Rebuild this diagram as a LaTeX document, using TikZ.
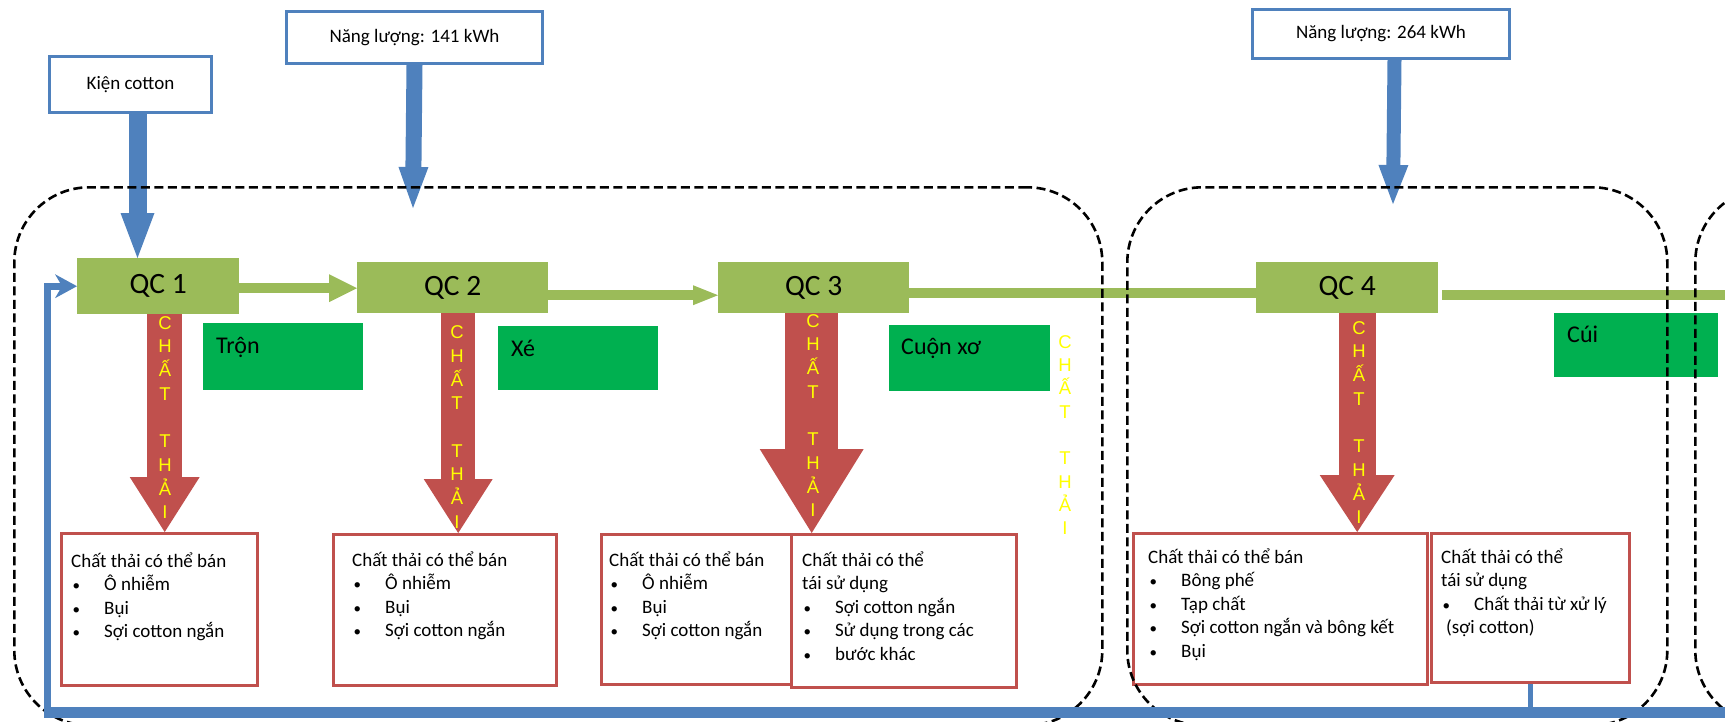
\documentclass[tikz,border=0pt]{standalone}
\usepackage{fontspec}
\setmainfont{Carlito}
\newfontfamily\arialf{Liberation Sans}
\usetikzlibrary{arrows.meta}
\definecolor{qcgreen}{HTML}{9BBB59}
\definecolor{boxgreen}{HTML}{00B050}
\definecolor{wred}{HTML}{C0504D}
\definecolor{wblue}{HTML}{4F81BD}
\definecolor{wyellow}{HTML}{FFFF00}
\newcommand{\bulitem}{\makebox[33pt][l]{\hspace*{1.5pt}{\fontsize{15}{15}\selectfont •}}}
\tikzset{
  inbox/.style={draw=wblue, line width=3pt, fill=white, inner sep=0pt, anchor=north west, font=\fontsize{19}{23}\selectfont},
  qcbox/.style={fill=qcgreen, inner sep=0pt, anchor=north west, font=\fontsize{29.5}{34}\selectfont},
  stagebox/.style={fill=boxgreen, inner sep=0pt, anchor=north west},
  stagelabel/.style={anchor=base west, inner sep=0pt, font=\fontsize{24}{28}\selectfont},
  wastebox/.style={draw=wred, line width=3pt, fill=white, inner sep=0pt, anchor=north west},
  wastetext/.style={anchor=base west, inner sep=0pt, align=left, font=\fontsize{19}{23.6}\selectfont},
  zone/.style={draw=black, line width=2.6pt, dash pattern=on 9pt off 4.5pt, rounded corners=75pt, inner sep=0pt, anchor=north west},
  vlabel/.style={text=wyellow, inner sep=0pt, align=center, font=\arialf\fontsize{18.5}{23.7}\selectfont},
}
\begin{document}
\begin{tikzpicture}[x=1pt,y=-1pt]
\useasboundingbox (0,0) rectangle (1725,721);
\clip (0,0) rectangle (1725,721);

% input boxes
\node[inbox, minimum width=162pt, minimum height=56pt] (kien) at (48,55) {Kiện cotton};
\node[inbox, minimum width=256pt, minimum height=52pt] (e141) at (285,10) {Năng lượng: 141 kWh};
\node[inbox, minimum width=257pt, minimum height=49pt] (e264) at (1251,8) {Năng lượng: 264 kWh};

% process boxes
\node[qcbox, minimum width=162pt, minimum height=56pt] (qc1) at (77,258) {QC 1};
\node[qcbox, minimum width=191pt, minimum height=51pt] (qc2) at (357,262) {QC 2};
\node[qcbox, minimum width=191pt, minimum height=51pt] (qc3) at (718,262) {QC 3};
\node[qcbox, minimum width=182pt, minimum height=51pt] (qc4) at (1256,262) {QC 4};

% stage boxes
\node[stagebox, minimum width=160pt, minimum height=67pt] (tronbox) at (203,323) {};
\node[stagebox, minimum width=160pt, minimum height=64pt] (xebox) at (498,326) {};
\node[stagebox, minimum width=161pt, minimum height=66pt] (cuonbox) at (889,325) {};
\node[stagebox, minimum width=164pt, minimum height=64pt] (cuibox) at (1554,313) {};
\node[stagelabel] (tron) at ([shift={(13,30)}]tronbox.north west) {Trộn};
\node[stagelabel] (xe) at ([shift={(13,30)}]xebox.north west) {Xé};
\node[stagelabel] (cuon) at ([shift={(12,29)}]cuonbox.north west) {Cuộn xơ};
\node[stagelabel] (cui) at ([shift={(13,29)}]cuibox.north west) {Cúi};

% waste boxes
\node[wastebox, minimum width=196pt, minimum height=152pt] (wA) at (60,532) {};
\node[wastebox, minimum width=223pt, minimum height=151pt] (wB) at (332,533) {};
\node[wastebox, minimum width=190pt, minimum height=150pt] (wC) at (600,533) {};
\node[wastebox, minimum width=225pt, minimum height=153pt] (wD) at (790,533) {};
\node[wastebox, minimum width=294pt, minimum height=151pt] (wE) at (1132,532) {};
\node[wastebox, minimum width=198pt, minimum height=149pt] (wF) at (1430,532) {};

% (anchor base = baseline of the last line)
\node[wastetext] (tA) at (71,637.8) {Chất thải có thể bán\\\bulitem Ô nhiễm\\\bulitem Bụi\\\bulitem Sợi cotton ngắn};
\node[wastetext] (tB) at (352,636.8) {Chất thải có thể bán\\\bulitem Ô nhiễm\\\bulitem Bụi\\\bulitem Sợi cotton ngắn};
\node[wastetext] (tC) at (609,636.8) {Chất thải có thể bán\\\bulitem Ô nhiễm\\\bulitem Bụi\\\bulitem Sợi cotton ngắn};
\node[wastetext] (tD) at (802,660.4) {Chất thải có thể\\tái sử dụng\\\bulitem Sợi cotton ngắn\\\bulitem Sử dụng trong các\\\bulitem bước khác};
\node[wastetext] (tE) at (1148,657.4) {Chất thải có thể bán\\\bulitem Bông phế\\\bulitem Tạp chất\\\bulitem Sợi cotton ngắn và bông kết\\\bulitem Bụi};
\node[wastetext] (tF) at (1441,633.8) {Chất thải có thể\\tái sử dụng\\\bulitem Chất thải từ xử lý\\\hspace*{5pt}(sợi cotton)};

% green flow arrows
\draw[qcgreen, line width=10pt, -{Triangle[length=28pt,width=28pt,line width=0pt]}] ([shift={(0,2)}]qc1.east) -- ([shift={(0,2)}]qc1.east -| qc2.west);
\draw[qcgreen, line width=10pt, -{Triangle[length=25pt,width=20pt,line width=0pt]}] ([shift={(0,7.5)}]qc2.east) -- ([shift={(0,7.5)}]qc2.east -| qc3.west);
\draw[qcgreen, line width=10pt] ([shift={(0,5.5)}]qc3.east) -- ([shift={(0,5.5)}]qc3.east -| qc4.west);
\coordinate (out) at (1740,295);
\draw[qcgreen, line width=10pt] ([shift={(4,7.5)}]qc4.east) -- ([shift={(0,7.5)}]qc4.east -| out);

% blue input arrows
\draw[wblue, line width=18pt, -{Triangle[length=45pt,width=34pt,line width=0pt]}] ([shift={(7,0)}]kien.south) -- ([shift={(7,0)}]kien.south |- qc1.north);
\coordinate (t141) at (413,208);
\draw[wblue, line width=16pt, -{Triangle[length=41pt,width=30pt,line width=0pt]}] (e141.south) -- (t141);
\coordinate (t264) at (1393,204);
\draw[wblue, line width=14pt, -{Triangle[length=39pt,width=30pt,line width=0pt]}] ([shift={(13.5,0)}]e264.south) -- (t264);

% red waste arrows
\draw[wred, line width=35pt, -{Triangle[length=55pt,width=70pt,line width=0pt]}] ([shift={(6.5,0)}]qc1.south) -- ([shift={(6.5,0)}]qc1.south |- wA.north);
\draw[wred, line width=34pt, -{Triangle[length=54pt,width=69pt,line width=0pt]}] ([shift={(5.5,0)}]qc2.south) -- ([shift={(5.5,0)}]qc2.south |- wB.north);
\draw[wred, line width=53pt, -{Triangle[length=84pt,width=104pt,line width=0pt]}] ([shift={(-2,0)}]qc3.south) -- ([shift={(-2,0)}]qc3.south |- wD.north);
\draw[wred, line width=37pt, -{Triangle[length=57pt,width=75pt,line width=0pt]}] ([shift={(10,0)}]qc4.south) -- ([shift={(10,0)}]qc4.south |- wE.north);

% vertical labels
\node[vlabel] (ct1) at (165,417.5) {C\\H\\Ấ\\T\\~\\T\\H\\Ả\\I};
\node[vlabel] (ct2) at (457,427) {C\\H\\Ấ\\T\\~\\T\\H\\Ả\\I};
\node[vlabel] (ct3) at (813,415.5) {C\\H\\Ấ\\T\\~\\T\\H\\Ả\\I};
\node[vlabel] (ct4) at (1359,422.5) {C\\H\\Ấ\\T\\~\\T\\H\\Ả\\I};
\node[vlabel, font=\arialf\fontsize{18.5}{23.3}\selectfont] (ct5) at (1065,435) {C\\H\\Ấ\\T\\~\\T\\H\\Ả\\I};

% dashed zones
\node[zone, minimum width=1088pt, minimum height=538pt] (zone1) at (13,186) {};
\node[zone, minimum width=540pt, minimum height=538pt] (zone2) at (1126,186) {};
\node[zone, minimum width=600pt, minimum height=538pt] (zone3) at (1694,186) {};

% feedback line
\coordinate (fbR) at (1740,712);
\coordinate (fbL) at (44,712);
\draw[wblue, line width=11pt] (fbR) -- (fbL);
\draw[wblue, line width=7pt, -{Stealth[length=22pt,width=24pt,inset=7pt,line width=0pt]}] ([shift={(3.5,5)}]fbL) |- (qc1.west);
\draw[wblue, line width=5pt] (wF.south) -- (wF.south |- fbR);
\end{tikzpicture}
\end{document}
